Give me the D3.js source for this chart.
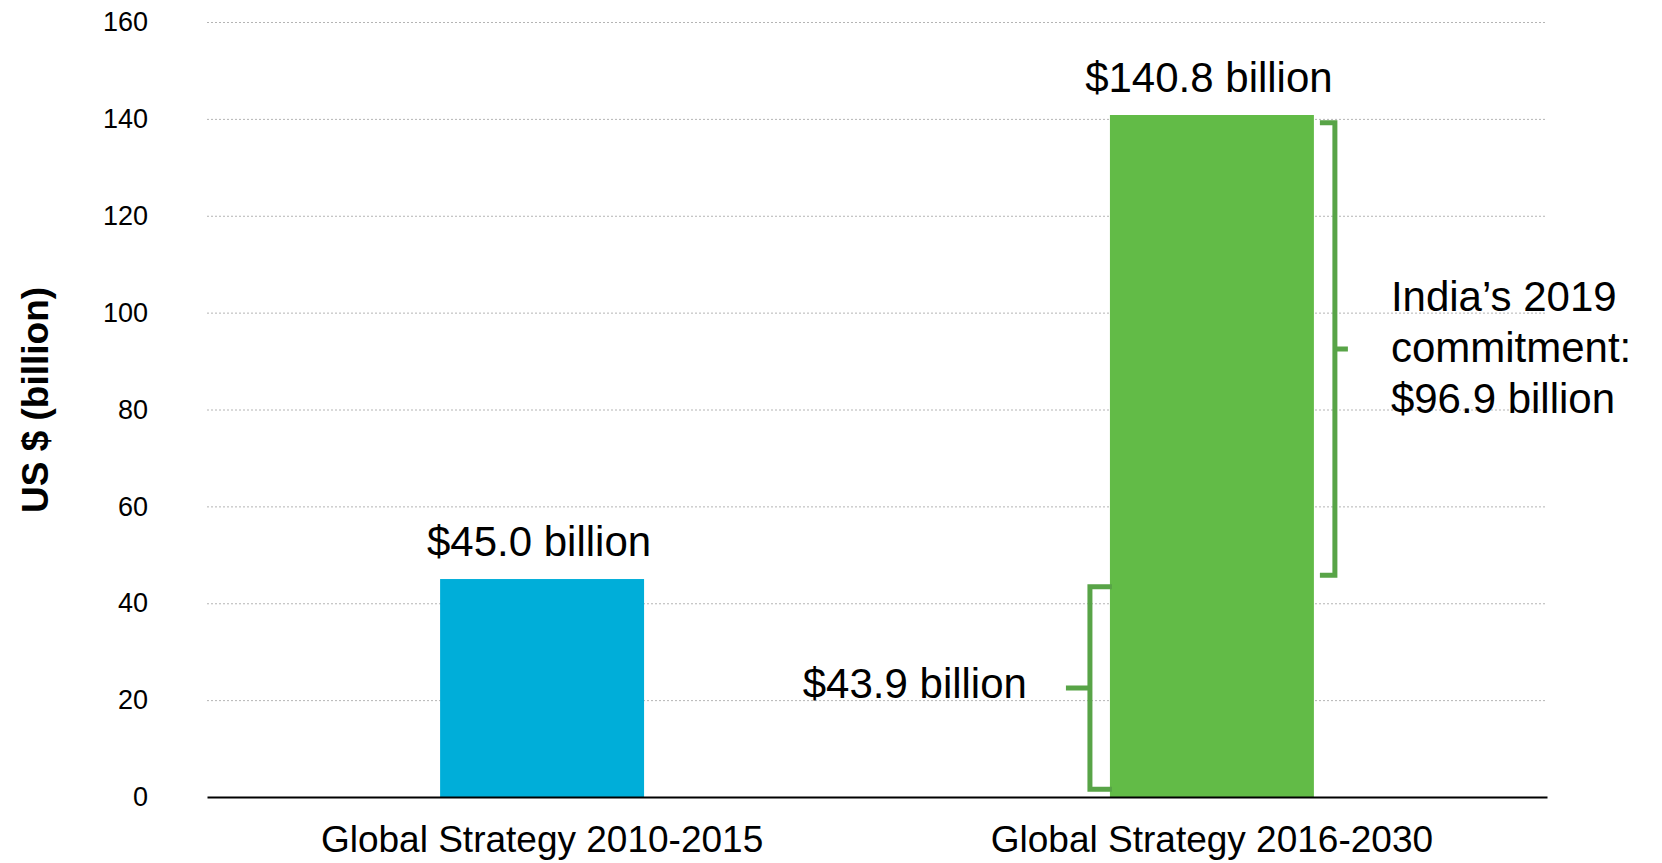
<!DOCTYPE html>
<html>
<head>
<meta charset="utf-8">
<script src="https://cdn.jsdelivr.net/npm/d3@7"></script>
<style>
  body { margin: 0; background: #fff; }
  text { font-family: "Liberation Sans", Arial, sans-serif; fill: #000; }
</style>
</head>
<body>
<script>
var width = 1662,
    height = 863;

// data
var categories = ["Global Strategy 2010-2015", "Global Strategy 2016-2030"];
var values = [45.0, 140.8];
var barLabels = ["$45.0 billion", "$140.8 billion"];
var barColors = ["#00aed9", "#62bb47"];
var yTicks = [0, 20, 40, 60, 80, 100, 120, 140, 160];

// bracket annotations on the second bar (value ranges)
var baseSpan = [1.6, 43.4];
var baseLabel = ["$43.9 billion"];
var indiaSpan = [45.8, 139.2];
var indiaLabel = ["India\u2019s 2019", "commitment:", "$96.9 billion"];

var margin = {left: 207, right: 115, top: 22, bottom: 66};

var svg = d3.select("body").append("svg")
    .attr("width", width)
    .attr("height", height);

var x = d3.scaleBand()
    .domain(categories)
    .range([margin.left, width - margin.right])
    .paddingInner(0.6955)
    .paddingOuter(0.348);

var y = d3.scaleLinear()
    .domain([0, 160])
    .range([height - margin.bottom, margin.top]);

// dotted gridlines
svg.append("g")
    .selectAll("line")
    .data(yTicks.filter(function (d) { return d > 0; }))
    .join("line")
    .attr("x1", margin.left)
    .attr("x2", width - margin.right)
    .attr("y1", function (d) { return y(d) + 0.5; })
    .attr("y2", function (d) { return y(d) + 0.5; })
    .attr("stroke", "#b4b4b4")
    .attr("stroke-width", 1)
    .attr("stroke-dasharray", "2,2");

// y axis labels
var yAxis = svg.append("g")
    .attr("transform", "translate(" + margin.left + ",0)")
    .call(d3.axisLeft(y).tickValues(yTicks).tickSize(0).tickPadding(59));
yAxis.select(".domain").remove();
yAxis.selectAll("text")
    .style("font-size", "27px")
    .style("font-family", '"Liberation Sans", Arial, sans-serif');

svg.append("text")
    .attr("transform", "translate(48," + 400 + ") rotate(-90)")
    .attr("text-anchor", "middle")
    .style("font-size", "37px")
    .style("font-weight", "bold")
    .text("US $ (billion)");

// bars
svg.append("g")
    .selectAll("rect")
    .data(values)
    .join("rect")
    .attr("x", function (d, i) { return x(categories[i]); })
    .attr("width", x.bandwidth())
    .attr("y", function (d) { return y(d); })
    .attr("height", function (d) { return y(0) - y(d); })
    .attr("fill", function (d, i) { return barColors[i]; });

svg.append("g")
    .selectAll("text")
    .data(values)
    .join("text")
    .attr("x", function (d, i) { return x(categories[i]) + x.bandwidth() / 2 - 3; })
    .attr("y", function (d) { return y(d) - 23; })
    .attr("text-anchor", "middle")
    .style("font-size", "42px")
    .text(function (d, i) { return barLabels[i]; });

// x axis
var xAxis = svg.append("g")
    .attr("transform", "translate(0," + y(0) + ")")
    .call(d3.axisBottom(x).tickSize(0).tickSizeOuter(0).tickPadding(29));
xAxis.select(".domain")
    .attr("stroke", "#000")
    .attr("stroke-width", 2);
xAxis.selectAll("text")
    .style("font-size", "37px")
    .style("font-family", '"Liberation Sans", Arial, sans-serif');

// brackets
var bracketColor = "#58a447";
var bx = x(categories[1]);
var bw = x.bandwidth();

var leftX = bx - 20;
var leftMid = (y(baseSpan[0]) + y(baseSpan[1])) / 2;
svg.append("path")
    .attr("d", "M" + (bx + 2) + "," + y(baseSpan[1]) +
        "H" + leftX + "V" + y(baseSpan[0]) + "H" + (bx + 2) +
        "M" + leftX + "," + leftMid + "H" + (leftX - 24))
    .attr("fill", "none")
    .attr("stroke", bracketColor)
    .attr("stroke-width", 5);

svg.append("text")
    .attr("x", leftX - 63)
    .attr("y", leftMid + 10)
    .attr("text-anchor", "end")
    .style("font-size", "42px")
    .text(baseLabel[0]);

var rightX = bx + bw + 21;
var rightMid = (y(indiaSpan[0]) + y(indiaSpan[1])) / 2;
svg.append("path")
    .attr("d", "M" + (bx + bw + 6) + "," + y(indiaSpan[1]) +
        "H" + rightX + "V" + y(indiaSpan[0]) + "H" + (bx + bw + 6) +
        "M" + rightX + "," + rightMid + "H" + (rightX + 13))
    .attr("fill", "none")
    .attr("stroke", bracketColor)
    .attr("stroke-width", 5);

svg.append("g")
    .selectAll("text")
    .data(indiaLabel)
    .join("text")
    .attr("x", rightX + 56)
    .attr("y", function (d, i) { return rightMid + 13 + (i - 1) * 51; })
    .style("font-size", "42px")
    .text(function (d) { return d; });
</script>
</body>
</html>
